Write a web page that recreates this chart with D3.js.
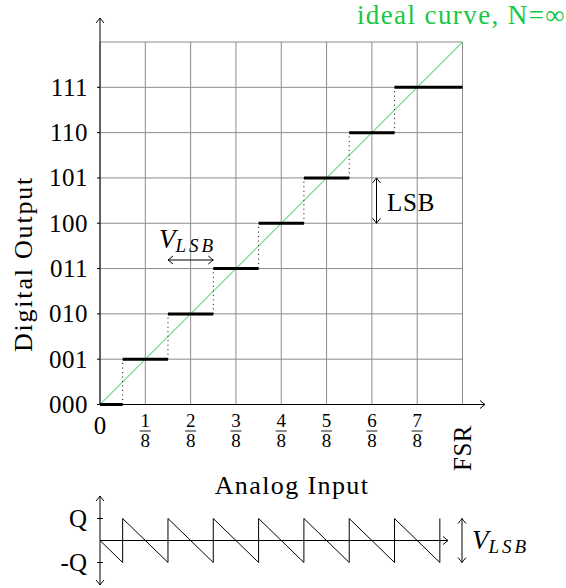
<!DOCTYPE html>
<html>
<head>
<meta charset="utf-8">
<script src="https://cdn.jsdelivr.net/npm/d3@7"></script>
<style>
  html, body { margin: 0; padding: 0; background: #fff; }
  svg { display: block; }
  text { font-family: "Liberation Serif", "Times New Roman", serif; fill: #000; }
</style>
</head>
<body>
<svg id="chart" width="566" height="588"></svg>
<script>
// ---------------- data ----------------
const codeLabels = ["000", "001", "010", "011", "100", "101", "110", "111"];
const codes = [0, 1, 2, 3, 4, 5, 6, 7];
// each output code holds over an input interval (in eighths of FSR)
const stepStart = [0, 0.5, 1.5, 2.5, 3.5, 4.5, 5.5, 6.5];
const stepEnd   = [0.5, 1.5, 2.5, 3.5, 4.5, 5.5, 6.5, 8];
// transition points (eighths of FSR) where the code jumps
const transitions = [0.5, 1.5, 2.5, 3.5, 4.5, 5.5, 6.5];
const xTickNums = [1, 2, 3, 4, 5, 6, 7];
const xTickDen = 8;
// quantisation error (in LSB) vs analog input (in eighths of FSR)
const errX = [0, 0.5, 0.5, 1.5, 1.5, 2.5, 2.5, 3.5, 3.5, 4.5, 4.5, 5.5, 5.5, 6.5, 6.5, 7.5, 7.5];
const errY = [0, -0.5, 0.5, -0.5, 0.5, -0.5, 0.5, -0.5, 0.5, -0.5, 0.5, -0.5, 0.5, -0.5, 0.5, -0.5, 0.5];
const errTicks = [0.5, -0.5];
const errTickLabels = ["Q", "-Q"];

// ---------------- scales ----------------
const svg = d3.select("#chart");
const x = d3.scaleLinear().domain([0, 8]).range([100, 462.5]);
const y = d3.scaleLinear().domain([0, 8]).range([404.5, 42]);
const ye = d3.scaleLinear().domain([-0.5, 0.5]).range([562.5, 518.5]);
const ye0 = ye(0);

const green = "#16c843";

function arrowHead(g, px, py, angleDeg) {
  g.append("path")
    .attr("d", "M -5,-4 Q -1.2,-0.8 0,0 Q -1.2,0.8 -5,4")
    .attr("transform", `translate(${px},${py}) rotate(${angleDeg})`)
    .attr("fill", "none").attr("stroke", "#000").attr("stroke-width", 1);
}

// ---------------- grid ----------------
const grid = svg.append("g");
grid.selectAll("line.v").data(d3.range(0, 9)).join("line")
  .attr("x1", d => x(d)).attr("x2", d => x(d))
  .attr("y1", y(0)).attr("y2", y(8))
  .attr("stroke", "#8c8c8c").attr("stroke-width", 1);
grid.selectAll("line.h").data(d3.range(0, 9)).join("line")
  .attr("x1", x(0)).attr("x2", x(8))
  .attr("y1", d => y(d)).attr("y2", d => y(d))
  .attr("stroke", "#8c8c8c").attr("stroke-width", 1);

// ---------------- axes ----------------
const ax = svg.append("g");
ax.append("line").attr("x1", x(0)).attr("x2", 485).attr("y1", y(0)).attr("y2", y(0))
  .attr("stroke", "#000").attr("stroke-width", 1);
arrowHead(ax, 485, y(0), 0);
ax.append("line").attr("x1", x(0)).attr("x2", x(0)).attr("y1", y(0)).attr("y2", 18)
  .attr("stroke", "#000").attr("stroke-width", 1);
arrowHead(ax, x(0), 18, -90);

// y ticks and labels
ax.selectAll("line.yt").data(codes).join("line")
  .attr("x1", x(0) - 3).attr("x2", x(0))
  .attr("y1", d => y(d)).attr("y2", d => y(d))
  .attr("stroke", "#000").attr("stroke-width", 1);
ax.selectAll("text.yl").data(codes).join("text")
  .attr("x", 88).attr("y", d => y(d) + 8.5)
  .attr("text-anchor", "end").attr("font-size", 25).attr("letter-spacing", 0.5)
  .text(d => codeLabels[d]);

// x tick labels (fractions)
ax.append("text").attr("x", x(0)).attr("y", 434).attr("text-anchor", "middle")
  .attr("font-size", 25).text("0");
const fr = ax.selectAll("g.fr").data(xTickNums).join("g")
  .attr("transform", d => `translate(${x(d)},0)`);
fr.append("text").attr("y", 427).attr("text-anchor", "middle").attr("font-size", 19).text(d => d);
fr.append("line").attr("x1", -5.5).attr("x2", 5.5).attr("y1", 431).attr("y2", 431)
  .attr("stroke", "#000").attr("stroke-width", 0.9);
fr.append("text").attr("y", 447).attr("text-anchor", "middle").attr("font-size", 19).text(xTickDen);
ax.append("text").attr("transform", `translate(${x(8) + 8},448) rotate(-90)`)
  .attr("text-anchor", "middle").attr("font-size", 25).attr("letter-spacing", 0.5).text("FSR");

// axis titles
svg.append("text").attr("transform", "translate(32,264) rotate(-90)")
  .attr("text-anchor", "middle").attr("font-size", 26).attr("letter-spacing", 1.8)
  .text("Digital Output");
svg.append("text").attr("x", 292).attr("y", 494)
  .attr("text-anchor", "middle").attr("font-size", 26).attr("letter-spacing", 1.4)
  .text("Analog Input");

// ---------------- ideal curve ----------------
svg.append("line").attr("x1", x(0)).attr("y1", y(0)).attr("x2", x(8)).attr("y2", y(8))
  .attr("stroke", green).attr("stroke-width", 1);
svg.append("text").attr("x", 566).attr("y", 24).attr("text-anchor", "end")
  .attr("font-size", 27).attr("letter-spacing", 1.4).style("fill", green)
  .text("ideal curve, N=\u221E");

// ---------------- dotted transitions ----------------
svg.selectAll("line.tr").data(transitions).join("line")
  .attr("x1", d => x(d)).attr("x2", d => x(d))
  .attr("y1", (d, i) => y(i)).attr("y2", (d, i) => y(i + 1))
  .attr("stroke", "#000").attr("stroke-width", 1).attr("stroke-dasharray", "1,3.5");

// ---------------- steps ----------------
svg.selectAll("line.st").data(codes).join("line")
  .attr("x1", d => x(stepStart[d])).attr("x2", d => x(stepEnd[d]))
  .attr("y1", d => y(d)).attr("y2", d => y(d))
  .attr("stroke", "#000").attr("stroke-width", 3);

// ---------------- annotations ----------------
const an = svg.append("g");
// V_LSB horizontal
an.append("line").attr("x1", x(1.5)).attr("x2", x(2.5)).attr("y1", 260).attr("y2", 260)
  .attr("stroke", "#000").attr("stroke-width", 1);
arrowHead(an, x(1.5), 260, 180);
arrowHead(an, x(2.5), 260, 0);
const v1 = an.append("text").attr("x", 159).attr("y", 248).attr("font-size", 27);
v1.append("tspan").attr("font-style", "italic").text("V");
v1.append("tspan").attr("font-style", "italic").attr("font-size", 19).attr("dy", 4)
  .attr("letter-spacing", 3).text("LSB");
// LSB vertical
an.append("line").attr("x1", 376.5).attr("x2", 376.5).attr("y1", y(5)).attr("y2", y(4))
  .attr("stroke", "#000").attr("stroke-width", 1);
arrowHead(an, 376.5, y(5), -90);
arrowHead(an, 376.5, y(4), 90);
an.append("text").attr("x", 387).attr("y", 211).attr("font-size", 25).attr("letter-spacing", 0.8).text("LSB");

// ---------------- error plot ----------------
const er = svg.append("g");
er.append("line").attr("x1", x(0)).attr("x2", 448).attr("y1", ye0).attr("y2", ye0)
  .attr("stroke", "#000").attr("stroke-width", 1);
arrowHead(er, 448, ye0, 0);
er.append("line").attr("x1", x(0)).attr("x2", x(0)).attr("y1", 496).attr("y2", 585)
  .attr("stroke", "#000").attr("stroke-width", 1);
arrowHead(er, x(0), 496, -90);
arrowHead(er, x(0), 585, 90);
er.selectAll("line.et").data(errTicks).join("line")
  .attr("x1", x(0) - 3).attr("x2", x(0) + 3)
  .attr("y1", d => ye(d)).attr("y2", d => ye(d))
  .attr("stroke", "#000").attr("stroke-width", 1);
er.selectAll("text.el").data(errTicks).join("text")
  .attr("x", 87).attr("y", d => ye(d) + 8.5).attr("text-anchor", "end")
  .attr("font-size", 25).text((d, i) => errTickLabels[i]);
const saw = d3.line().x(d => x(d[0])).y(d => ye(d[1]));
er.append("path").datum(errX.map((v, i) => [v, errY[i]]))
  .attr("d", saw).attr("fill", "none").attr("stroke", "#000").attr("stroke-width", 1);
// V_LSB vertical at right
er.append("line").attr("x1", 462).attr("x2", 462).attr("y1", ye(0.5)).attr("y2", ye(-0.5))
  .attr("stroke", "#000").attr("stroke-width", 1);
arrowHead(er, 462, ye(0.5), -90);
arrowHead(er, 462, ye(-0.5), 90);
const v2 = er.append("text").attr("x", 472).attr("y", 549).attr("font-size", 27);
v2.append("tspan").attr("font-style", "italic").text("V");
v2.append("tspan").attr("font-style", "italic").attr("font-size", 19).attr("dy", 4)
  .attr("letter-spacing", 3).text("LSB");
</script>
</body>
</html>
